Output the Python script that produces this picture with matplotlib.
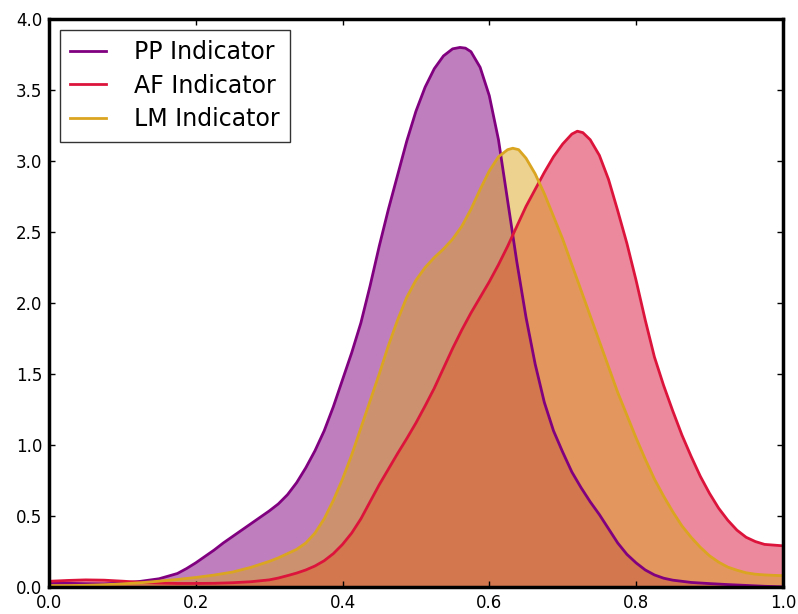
import matplotlib
matplotlib.use("Agg")
import matplotlib.pyplot as plt

# PP Indicator
x_pp = [0.000, 0.025, 0.050, 0.075, 0.100, 0.125, 0.150, 0.175, 0.1875, 0.200,
        0.2125, 0.225, 0.2375, 0.250, 0.2625, 0.275, 0.2875, 0.300, 0.3125, 0.325,
        0.3375, 0.350, 0.3625, 0.375, 0.3875, 0.400, 0.4125, 0.425, 0.4375, 0.450,
        0.4625, 0.475, 0.4875, 0.500, 0.5125, 0.525, 0.5375, 0.550, 0.560, 0.5675,
        0.575, 0.5875, 0.600, 0.6125, 0.625, 0.6375, 0.650, 0.6625, 0.675, 0.6875,
        0.700, 0.7125, 0.725, 0.7375, 0.750, 0.7625, 0.775, 0.7875, 0.800, 0.8125,
        0.825, 0.8375, 0.850, 0.875, 0.900, 0.925, 0.950, 0.975, 1.000]
pp_vals = [0.025, 0.026, 0.023, 0.022, 0.028, 0.040, 0.058, 0.095, 0.13, 0.17,
           0.215, 0.26, 0.31, 0.355, 0.40, 0.445, 0.49, 0.535, 0.585, 0.65,
           0.735, 0.84, 0.96, 1.10, 1.27, 1.46, 1.65, 1.86, 2.12, 2.40,
           2.66, 2.90, 3.14, 3.35, 3.52, 3.65, 3.74, 3.79, 3.80, 3.795,
           3.77, 3.66, 3.46, 3.15, 2.72, 2.29, 1.90, 1.57, 1.30, 1.10,
           0.95, 0.81, 0.70, 0.60, 0.51, 0.41, 0.31, 0.23, 0.17, 0.12,
           0.085, 0.062, 0.048, 0.032, 0.024, 0.017, 0.011, 0.005, 0.001]

# AF Indicator
x_af = [0.000, 0.025, 0.050, 0.075, 0.100, 0.125, 0.150, 0.175, 0.200, 0.225,
        0.250, 0.275, 0.300, 0.3125, 0.325, 0.3375, 0.350, 0.3625, 0.375, 0.3875,
        0.400, 0.4125, 0.425, 0.4375, 0.450, 0.4625, 0.475, 0.4875, 0.500, 0.5125,
        0.525, 0.5375, 0.550, 0.5625, 0.575, 0.5875, 0.600, 0.6125, 0.625, 0.6375,
        0.650, 0.6625, 0.675, 0.6875, 0.700, 0.7125, 0.720, 0.7275, 0.7375, 0.750,
        0.7625, 0.775, 0.7875, 0.800, 0.8125, 0.825, 0.8375, 0.850, 0.8625, 0.875,
        0.8875, 0.900, 0.9125, 0.925, 0.9375, 0.950, 0.9625, 0.975, 0.9875, 1.000]
af_vals = [0.040, 0.046, 0.050, 0.048, 0.041, 0.033, 0.028, 0.025, 0.025, 0.026,
           0.030, 0.037, 0.050, 0.063, 0.080, 0.098, 0.120, 0.148, 0.185, 0.235,
           0.30, 0.38, 0.48, 0.60, 0.72, 0.83, 0.94, 1.045, 1.155, 1.275,
           1.40, 1.54, 1.68, 1.81, 1.93, 2.04, 2.15, 2.27, 2.40, 2.54,
           2.68, 2.80, 2.92, 3.03, 3.12, 3.19, 3.21, 3.20, 3.15, 3.04,
           2.87, 2.65, 2.42, 2.16, 1.88, 1.62, 1.42, 1.24, 1.07, 0.92,
           0.78, 0.66, 0.555, 0.47, 0.40, 0.35, 0.32, 0.30, 0.295, 0.29]

# LM Indicator
x_lm = [0.000, 0.025, 0.050, 0.075, 0.100, 0.125, 0.150, 0.175, 0.200, 0.225,
        0.250, 0.275, 0.300, 0.3125, 0.325, 0.3375, 0.350, 0.3625, 0.375, 0.3875,
        0.400, 0.4125, 0.425, 0.4375, 0.450, 0.4625, 0.475, 0.4875, 0.500, 0.5125,
        0.525, 0.5375, 0.550, 0.5625, 0.575, 0.5875, 0.600, 0.6125, 0.625, 0.632,
        0.640, 0.650, 0.6625, 0.675, 0.6875, 0.700, 0.7125, 0.725, 0.7375, 0.750,
        0.7625, 0.775, 0.7875, 0.800, 0.8125, 0.825, 0.8375, 0.850, 0.8625, 0.875,
        0.8875, 0.900, 0.9125, 0.925, 0.9375, 0.950, 0.9625, 0.975, 0.9875, 1.000]
lm_vals = [0.010, 0.010, 0.012, 0.016, 0.022, 0.030, 0.041, 0.053, 0.067, 0.084,
           0.105, 0.138, 0.180, 0.205, 0.235, 0.265, 0.31, 0.38, 0.48, 0.61,
           0.76, 0.93, 1.12, 1.31, 1.50, 1.70, 1.88, 2.04, 2.16, 2.25,
           2.32, 2.38, 2.45, 2.54, 2.66, 2.80, 2.93, 3.03, 3.08, 3.09,
           3.08, 3.02, 2.91, 2.77, 2.61, 2.45, 2.27, 2.09, 1.91, 1.73,
           1.55, 1.37, 1.21, 1.05, 0.90, 0.76, 0.64, 0.53, 0.43, 0.35,
           0.28, 0.22, 0.175, 0.14, 0.118, 0.10, 0.09, 0.085, 0.082, 0.08]

labels = ["PP Indicator", "AF Indicator", "LM Indicator"]
colors = ["purple", "crimson", "goldenrod"]
xticks = [0.0, 0.2, 0.4, 0.6, 0.8, 1.0]
yticks = [0.0, 0.5, 1.0, 1.5, 2.0, 2.5, 3.0, 3.5, 4.0]

fig = plt.figure(figsize=(7.98, 6.14), dpi=100, facecolor="white")
ax = fig.add_axes([0.0614, 0.044, 0.9196, 0.925])

series = [(x_pp, pp_vals), (x_af, af_vals), (x_lm, lm_vals)]
for (xs, ys), lab, col in zip(series, labels, colors):
    ax.plot(xs, ys, color=col, lw=2, label=lab)
    ax.fill_between(xs, ys, 0, color=col, alpha=0.5, lw=0)

ax.set_xlim(0, 1)
ax.set_ylim(0, 4)
ax.set_xticks(xticks)
ax.set_yticks(yticks)
ax.set_xticklabels([f"{t:.1f}" for t in xticks])
ax.set_yticklabels([f"{t:.1f}" for t in yticks])
ax.tick_params(direction="in", length=4, width=1, labelsize=12,
               top=True, right=True, pad=5)
for s in ax.spines.values():
    s.set_linewidth(2.5)

leg = ax.legend(loc="upper left", fontsize=17, fancybox=False, frameon=True,
                handlelength=1.5, handletextpad=1.2, labelspacing=0.4,
                borderpad=0.45, borderaxespad=0.45)
leg.get_frame().set_edgecolor("black")
leg.get_frame().set_linewidth(1.0)

fig.savefig("out.png", dpi=100, facecolor="white")
